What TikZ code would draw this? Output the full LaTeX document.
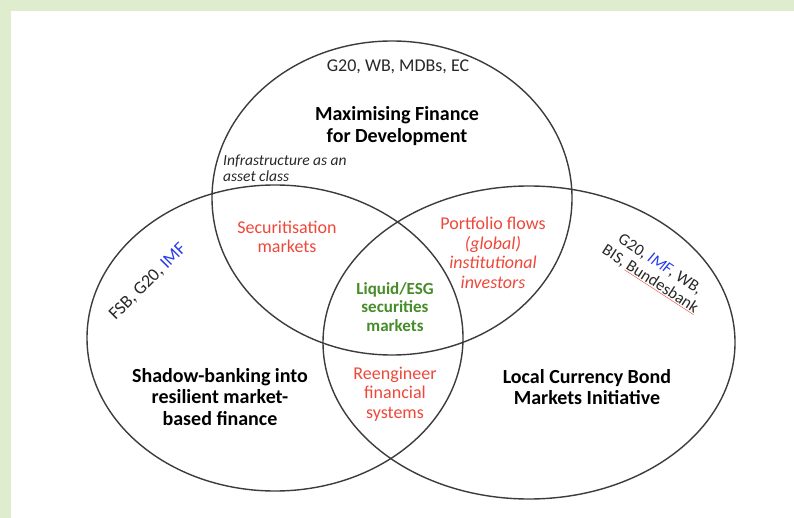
\documentclass[tikz,border=0pt]{standalone}
\usepackage{fontspec}
\setmainfont{Carlito}
\definecolor{bggreen}{RGB}{224,236,206}
\definecolor{linegray}{RGB}{60,60,60}
\definecolor{txtred}{RGB}{238,72,58}
\definecolor{txtgreen}{RGB}{70,140,40}
\definecolor{txtblue}{RGB}{40,60,235}
\definecolor{txtdark}{RGB}{40,40,40}
\tikzset{
  venn/.style={draw=linegray, line width=1.4pt},
  lbl/.style={align=center, text=txtdark, inner sep=0pt, font=\fontsize{18}{19.5}\selectfont},
  ttl/.style={align=center, text=black, inner sep=0pt, font=\fontsize{20}{21.5}\selectfont\bfseries},
  redlbl/.style={lbl, text=txtred},
  greenlbl/.style={ttl, text=txtgreen, font=\fontsize{17}{18.5}\selectfont\bfseries},
}
\begin{document}
\begin{tikzpicture}[x=1pt,y=-1pt]
\fill[white] (0,0) rectangle (794,518);
\useasboundingbox (0,0) rectangle (794,518);
\fill[bggreen] (0,0) rectangle (794,11);
\fill[bggreen] (0,0) rectangle (11,518);
% ellipses
\draw[venn] (392,198) ellipse [x radius=180pt, y radius=157pt];
\draw[venn] (275,338) ellipse [x radius=188pt, y radius=153pt];
\draw[venn] (529,342.5) ellipse [x radius=206pt, y radius=156.5pt];
% top circle
\node[lbl] (topact) at (398,67) {G20, WB, MDBs, EC};
\node[ttl] (toptitle) at (397,126) {Maximising Finance\\for Development};
\node[lbl, align=left, anchor=west, font=\fontsize{15.5}{16}\selectfont\itshape] (infra) at (223,168) {Infrastructure as an\\asset class};
% left circle
\node[lbl, rotate=45] (leftact) at (148,282) {FSB, G20, \textcolor{txtblue}{IMF}};
\node[ttl] (lefttitle) at (220,397) {Shadow-banking into\\resilient market-\\based finance};
% right circle
\node[lbl, rotate=-33, font=\fontsize{16.5}{18}\selectfont] (rightact) at (655,272) {G20, \textcolor{txtblue}{\itshape IMF}, WB,\\BIS, \rlap{\color{txtred}\underline{\phantom{Bundesbank}}}Bundesbank};
\node[ttl] (righttitle) at (587,387) {Local Currency Bond\\Markets Initiative};
% intersections
\node[redlbl] (securit) at (287,237) {Securitisation\\markets};
\node[redlbl] (portf) at (493,253) {Portfolio flows\\\itshape (global)\\\itshape institutional\\\itshape investors};
\node[greenlbl] (liquid) at (395,307) {Liquid/ESG\\securities\\markets};
\node[redlbl] (reeng) at (395,394) {Reengineer\\financial\\systems};
\end{tikzpicture}
\end{document}
